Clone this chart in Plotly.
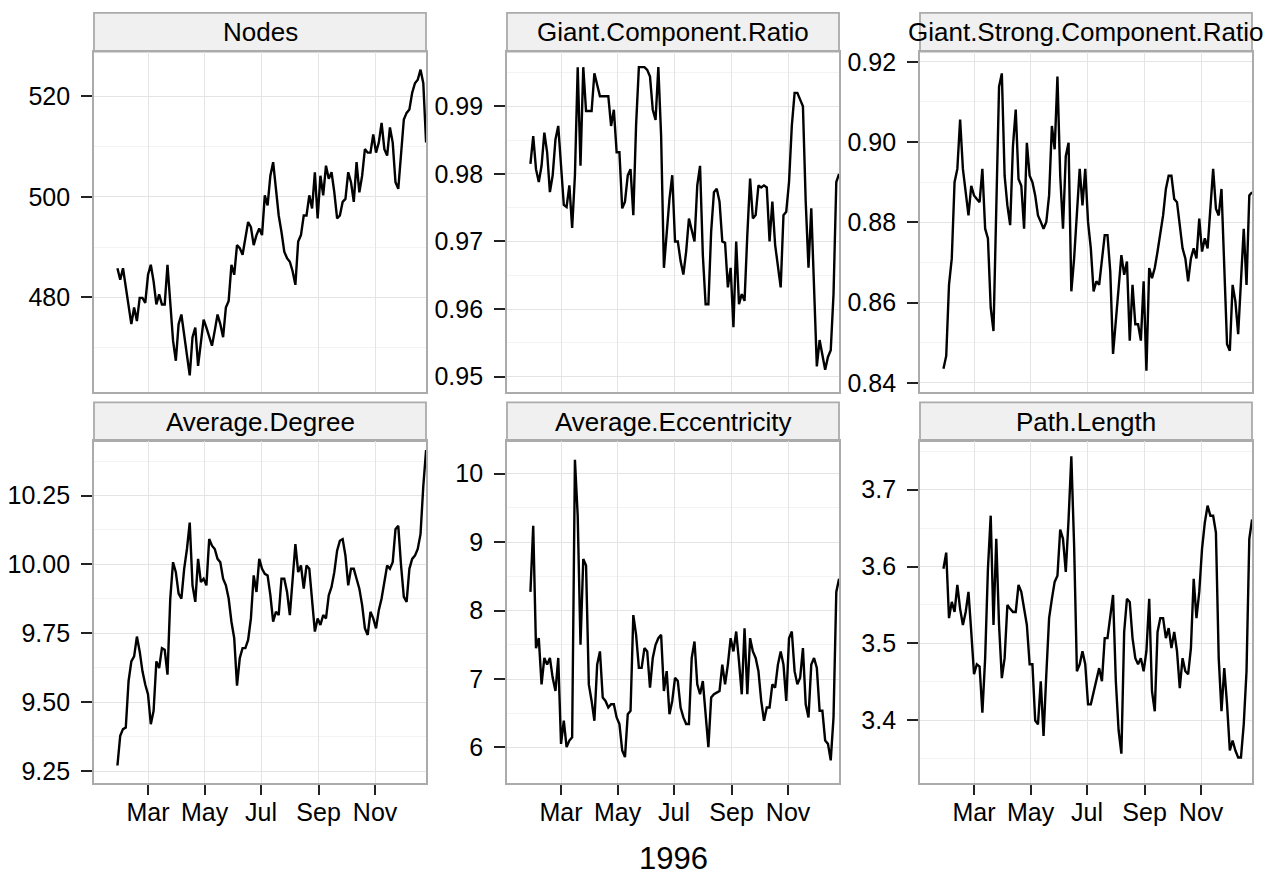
import pandas as pd
import plotly.graph_objects as go

# ---------------- data ----------------
dates = pd.date_range("1996-01-28", periods=112, freq="3D")

nodes = [
    485.8, 483.5, 485.8, 481.9, 478.0, 474.7, 478.0, 475.3, 479.9, 479.9,
    478.9, 484.5, 486.5, 483.2, 478.6, 480.6, 478.6, 478.6, 486.5, 479.3,
    471.4, 467.4, 474.7, 476.6, 472.7, 468.1, 464.5, 472.1, 474.0, 466.4,
    471.4, 475.6, 474.0, 472.1, 470.4, 473.4, 476.6, 474.7, 472.1, 478.0,
    479.3, 486.5, 484.5, 490.4, 489.8, 488.5, 491.7, 495.0, 494.0, 490.4,
    492.4, 493.7, 492.4, 500.3, 498.3, 504.2, 506.9, 501.6, 496.3, 493.0,
    489.1, 487.8, 487.1, 485.2, 482.5, 491.1, 492.4, 496.3, 496.3, 500.3,
    497.7, 504.9, 495.7, 504.2, 500.3, 506.2, 503.6, 504.9, 500.9, 495.7,
    496.3, 499.0, 499.6, 504.9, 502.9, 499.0, 506.9, 500.9, 504.2, 509.5,
    508.8, 508.8, 512.4, 508.8, 510.8, 514.7, 509.5, 508.2, 513.8, 510.8,
    502.9, 501.6, 508.8, 515.4, 516.7, 517.4, 520.7, 522.6, 523.3, 525.3,
    522.6, 510.8,
]

giant_component_ratio = [
    0.9815, 0.9856, 0.9807, 0.9788, 0.9812, 0.9861, 0.9832, 0.9773, 0.9798, 0.9851,
    0.9871, 0.9817, 0.9754, 0.9751, 0.9783, 0.9720, 0.9798, 0.9958, 0.9812, 0.9958,
    0.9893, 0.9893, 0.9893, 0.9949, 0.9934, 0.9915, 0.9915, 0.9915, 0.9915, 0.9871,
    0.9895, 0.9832, 0.9832, 0.9749, 0.9759, 0.9798, 0.9807, 0.9739, 0.9873, 0.9958,
    0.9958, 0.9958, 0.9954, 0.9944, 0.9895, 0.9880, 0.9958, 0.9856, 0.9661, 0.9715,
    0.9763, 0.9798, 0.9700, 0.9700, 0.9671, 0.9651, 0.9685, 0.9734, 0.9717, 0.9700,
    0.9783, 0.9812, 0.9680, 0.9607, 0.9607, 0.9715, 0.9773, 0.9778, 0.9759, 0.9700,
    0.9698, 0.9632, 0.9661, 0.9573, 0.9700, 0.9607, 0.9622, 0.9612, 0.9710, 0.9793,
    0.9734, 0.9739, 0.9783, 0.9780, 0.9783, 0.9780, 0.9700, 0.9759, 0.9695, 0.9661,
    0.9632, 0.9739, 0.9744, 0.9788, 0.9871, 0.9920, 0.9920, 0.9910, 0.9900, 0.9759,
    0.9661, 0.9749, 0.9622, 0.9515, 0.9554, 0.9534, 0.9510, 0.9529, 0.9539, 0.9622,
    0.9788, 0.9800,
]

giant_strong_component_ratio = [
    0.8435, 0.8467, 0.8644, 0.8710, 0.8900, 0.8933, 0.9056, 0.8933, 0.8875, 0.8817,
    0.8891, 0.8867, 0.8858, 0.8850, 0.8933, 0.8784, 0.8760, 0.8587, 0.8529, 0.8817,
    0.9138, 0.9171, 0.8916, 0.8842, 0.8793, 0.8990, 0.9081, 0.8908, 0.8891, 0.8784,
    0.8998, 0.8916, 0.8900, 0.8867, 0.8817, 0.8801, 0.8784, 0.8801, 0.8867, 0.9040,
    0.8982, 0.9163, 0.8916, 0.8784, 0.8965, 0.8998, 0.8628, 0.8710, 0.8809, 0.8933,
    0.8842, 0.8933, 0.8801, 0.8735, 0.8628, 0.8653, 0.8644, 0.8710, 0.8768, 0.8768,
    0.8677, 0.8472, 0.8554, 0.8620, 0.8718, 0.8669, 0.8702, 0.8505, 0.8644, 0.8546,
    0.8546, 0.8505, 0.8653, 0.8430, 0.8686, 0.8661, 0.8686, 0.8727, 0.8768, 0.8817,
    0.8883, 0.8916, 0.8916, 0.8858, 0.8850, 0.8784, 0.8735, 0.8710, 0.8653, 0.8710,
    0.8735, 0.8710, 0.8809, 0.8727, 0.8760, 0.8735, 0.8834, 0.8933, 0.8834, 0.8817,
    0.8883, 0.8669, 0.8496, 0.8480, 0.8644, 0.8603, 0.8521, 0.8653, 0.8784, 0.8644,
    0.8867, 0.8875,
]

average_degree = [
    9.270, 9.378, 9.402, 9.408, 9.576, 9.648, 9.666, 9.738, 9.684, 9.612,
    9.564, 9.528, 9.420, 9.468, 9.648, 9.624, 9.696, 9.690, 9.600, 9.876,
    10.008, 9.972, 9.894, 9.876, 9.984, 10.056, 10.152, 9.924, 9.864, 10.020,
    9.936, 9.948, 9.924, 10.092, 10.068, 10.056, 10.020, 10.008, 9.948, 9.924,
    9.876, 9.792, 9.732, 9.560, 9.660, 9.696, 9.696, 9.726, 9.804, 9.960,
    9.900, 10.020, 9.984, 9.966, 9.960, 9.888, 9.792, 9.828, 9.816, 9.948,
    9.948, 9.900, 9.816, 9.960, 10.074, 9.972, 9.996, 9.912, 9.996, 9.984,
    9.876, 9.756, 9.804, 9.780, 9.816, 9.804, 9.888, 9.918, 9.972, 10.050,
    10.086, 10.092, 10.032, 9.924, 9.984, 9.984, 9.948, 9.912, 9.852, 9.768,
    9.744, 9.828, 9.804, 9.768, 9.834, 9.876, 9.936, 9.996, 9.984, 10.008,
    10.128, 10.140, 9.996, 9.882, 9.864, 9.984, 10.020, 10.032, 10.056, 10.110,
    10.284, 10.415,
]

average_eccentricity = [
    8.273, 9.238, 7.452, 7.597, 6.922, 7.308, 7.211, 7.308, 7.018, 6.825,
    7.308, 6.053, 6.391, 6.005, 6.101, 6.150, 10.203, 9.382, 7.500, 8.755,
    8.659, 6.922, 6.680, 6.391, 7.211, 7.404, 6.729, 6.680, 6.584, 6.632,
    6.632, 6.439, 6.343, 5.957, 5.860, 6.487, 6.536, 7.935, 7.645, 7.163,
    7.163, 7.452, 7.404, 6.873, 7.308, 7.501, 7.597, 7.645, 6.825, 7.115,
    6.487, 6.680, 7.018, 6.970, 6.584, 6.439, 6.343, 6.343, 7.308, 7.549,
    6.922, 6.777, 6.970, 6.536, 6.005, 6.729, 6.777, 6.801, 6.825, 7.211,
    6.922, 7.211, 7.597, 7.404, 7.694, 7.259, 6.777, 7.742, 6.777, 7.597,
    7.404, 7.308, 7.115, 6.680, 6.391, 6.584, 6.584, 6.922, 6.873, 7.211,
    7.404, 7.211, 6.680, 7.597, 7.694, 7.115, 6.922, 7.018, 7.452, 6.632,
    6.439, 7.211, 7.308, 7.163, 6.536, 6.536, 6.101, 6.053, 5.812, 6.439,
    8.273, 8.466,
]

path_length = [
    3.597, 3.618, 3.533, 3.554, 3.541, 3.576, 3.545, 3.524, 3.541, 3.567,
    3.515, 3.460, 3.473, 3.470, 3.410, 3.481, 3.597, 3.666, 3.524, 3.636,
    3.524, 3.455, 3.481, 3.550, 3.545, 3.541, 3.541, 3.576, 3.567, 3.545,
    3.524, 3.473, 3.473, 3.400, 3.395, 3.451, 3.380, 3.460, 3.533, 3.558,
    3.580, 3.588, 3.648, 3.636, 3.593, 3.661, 3.743, 3.627, 3.464, 3.473,
    3.490, 3.473, 3.421, 3.421, 3.438, 3.451, 3.468, 3.451, 3.507, 3.507,
    3.533, 3.563, 3.451, 3.387, 3.357, 3.515, 3.558, 3.554, 3.507, 3.481,
    3.473, 3.481, 3.464, 3.490, 3.558, 3.438, 3.412, 3.515, 3.533, 3.533,
    3.507, 3.520, 3.494, 3.515, 3.490, 3.442, 3.481, 3.464, 3.460, 3.494,
    3.584, 3.533, 3.567, 3.623, 3.657, 3.679, 3.666, 3.666, 3.644, 3.481,
    3.412, 3.468, 3.421, 3.361, 3.374, 3.361, 3.352, 3.352, 3.395, 3.464,
    3.636, 3.661,
]

panel_titles = ["Nodes", "Giant.Component.Ratio", "Giant.Strong.Component.Ratio",
                "Average.Degree", "Average.Eccentricity", "Path.Length"]
series = [nodes, giant_component_ratio, giant_strong_component_ratio,
          average_degree, average_eccentricity, path_length]

month_ticks = ["1996-03-01", "1996-05-01", "1996-07-01", "1996-09-01", "1996-11-01"]
month_labels = ["Mar", "May", "Jul", "Sep", "Nov"]

y_ticks = [
    [480, 500, 520],
    [0.95, 0.96, 0.97, 0.98, 0.99],
    [0.84, 0.86, 0.88, 0.90, 0.92],
    [9.25, 9.50, 9.75, 10.00, 10.25],
    [6, 7, 8, 9, 10],
    [3.4, 3.5, 3.6, 3.7],
]
y_tick_labels = [
    ["480", "500", "520"],
    ["0.95", "0.96", "0.97", "0.98", "0.99"],
    ["0.84", "0.86", "0.88", "0.90", "0.92"],
    ["9.25", "9.50", "9.75", "10.00", "10.25"],
    ["6", "7", "8", "9", "10"],
    ["3.4", "3.5", "3.6", "3.7"],
]
y_minor = [
    [470, 490, 510],
    [0.955, 0.965, 0.975, 0.985, 0.995],
    [0.85, 0.87, 0.89, 0.91],
    [9.375, 9.625, 9.875, 10.125, 10.375],
    [6.5, 7.5, 8.5, 9.5],
    [3.35, 3.45, 3.55, 3.65, 3.75],
]
y_ranges = [
    [461.1, 528.9],
    [0.94765, 0.99811],
    [0.83760, 0.92254],
    [9.207, 10.448],
    [5.483, 10.478],
    [3.319, 3.763],
]
x_range = ["1996-01-02 17:00", "1996-12-25 22:00"]

# ---------------- layout geometry (pixels) ----------------
W, H = 1287, 881
cols = [(94, 426), (507, 839), (920, 1252)]
rows = [(48, 392), (441, 786)]
strips = [(9, 48), (402, 441)]

FONT = "Liberation Sans, Arial, Helvetica, sans-serif"
GRID = "#e4e4e4"
MINOR = "#f3f3f3"
BORDER = "#ababab"
STRIP_FILL = "#f0f0f0"


def fx(px):
    return px / W


def fy(py):
    return 1 - py / H


fig = go.Figure()
layout = dict(
    width=W, height=H, autosize=False,
    margin=dict(l=0, r=0, t=0, b=0, pad=0),
    paper_bgcolor="white", plot_bgcolor="white",
    showlegend=False,
    font=dict(family=FONT, color="black", size=25),
)
shapes = []
annotations = []

for i in range(6):
    r, c = divmod(i, 3)
    n = i + 1
    xa = "x" if n == 1 else f"x{n}"
    ya = "y" if n == 1 else f"y{n}"
    fig.add_trace(go.Scatter(
        x=dates, y=series[i], mode="lines",
        line=dict(color="black", width=2.4),
        xaxis=xa, yaxis=ya, hoverinfo="x+y",
    ))
    x0, x1 = cols[c]
    y0, y1 = rows[r]
    bottom = (r == 1)
    layout["xaxis" if n == 1 else f"xaxis{n}"] = dict(
        domain=[fx(x0), fx(x1)], anchor=ya, type="date",
        range=x_range, tickmode="array", tickvals=month_ticks, ticktext=month_labels,
        showticklabels=bottom, ticks="outside" if bottom else "",
        ticklen=10, tickwidth=2, tickcolor="#222222",
        ticklabelstandoff=-4,
        tickfont=dict(family=FONT, size=25, color="black"),
        showgrid=True, gridcolor=GRID, gridwidth=1.2,
        showline=True, linecolor=BORDER, linewidth=1.8, mirror=True,
        zeroline=False, fixedrange=True,
    )
    layout["yaxis" if n == 1 else f"yaxis{n}"] = dict(
        domain=[fy(y1), fy(y0)], anchor=xa,
        range=y_ranges[i], tickmode="array", tickvals=y_ticks[i], ticktext=y_tick_labels[i],
        ticks="outside", ticklen=11, tickwidth=2, tickcolor="#222222",
        ticklabelstandoff=6,
        tickfont=dict(family=FONT, size=25, color="black"),
        showgrid=True, gridcolor=GRID, gridwidth=1.2,
        minor=dict(tickvals=y_minor[i], showgrid=True, gridcolor=MINOR, gridwidth=1.2, ticks=""),
        showline=True, linecolor=BORDER, linewidth=1.8, mirror=True,
        zeroline=False, fixedrange=True,
    )
    s0, s1 = strips[r]
    shapes.append(dict(
        type="rect", xref="paper", yref="paper",
        x0=fx(x0), x1=fx(x1), y0=fy(s1), y1=fy(s0),
        fillcolor=STRIP_FILL, line=dict(color=BORDER, width=1.8), layer="below",
    ))
    annotations.append(dict(
        text=panel_titles[i], xref="paper", yref="paper",
        x=fx((x0 + x1) / 2), y=fy((s0 + s1) / 2),
        xanchor="center", yanchor="middle", showarrow=False,
        font=dict(family=FONT, size=26, color="black"),
    ))

annotations.append(dict(
    text="1996", xref="paper", yref="paper",
    x=fx(673), y=fy(862), xanchor="center", yanchor="middle", showarrow=False,
    font=dict(family=FONT, size=31, color="black"),
))

layout["shapes"] = shapes
layout["annotations"] = annotations
fig.update_layout(**layout)

fig.write_html(
    "out.html",
    config={"displayModeBar": False},
    post_script="document.body.style.margin='0';document.body.style.overflow='hidden';",
)
